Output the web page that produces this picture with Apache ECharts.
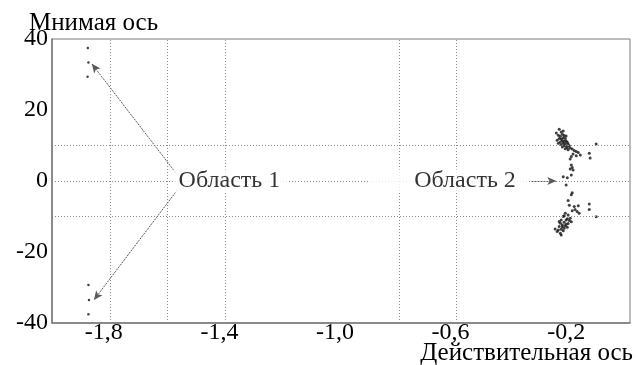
<!DOCTYPE html>
<html>
<head>
<meta charset="utf-8">
<script src="https://cdn.jsdelivr.net/npm/echarts@6/dist/echarts.min.js"></script>
<style>
  html, body { margin: 0; padding: 0; background: #fff; }
  #chart { width: 638px; height: 365px; }
</style>
</head>
<body>
<div id="chart"></div>
<script>
// Axis settings
const xRange = [-2, 0];
const yRange = [-40, 40];
const xTickLabels = [-1.8, -1.4, -1.0, -0.6, -0.2];
const yTickStep = 20;
const xGridLines = [-1.8, -1.6, -1.4, -0.8, -0.6];
const yGridLines = [10, 0, -10];

// Roots of region 1 (complex-conjugate pairs far on the left)
const region1Points = [
  [-1.876, 37.5], [-1.874, 33.4], [-1.877, 29.4],
  [-1.874, -29.3], [-1.872, -33.5], [-1.874, -37.5]
];

// Roots of region 2 (dense cluster close to the imaginary axis)
const region2Upper = [
  [-0.245, 14.6], [-0.255, 13.5], [-0.238, 13.8], [-0.234, 13.2], [-0.248, 12.9],
  [-0.241, 12.6], [-0.228, 12.8], [-0.231, 12.2], [-0.245, 12.0], [-0.238, 11.8],
  [-0.224, 12.0], [-0.234, 11.4], [-0.228, 11.2], [-0.241, 11.0], [-0.221, 11.3],
  [-0.231, 10.7], [-0.217, 10.9], [-0.224, 10.5], [-0.238, 10.3], [-0.214, 10.4],
  [-0.228, 10.0], [-0.221, 9.8], [-0.210, 9.9], [-0.234, 9.6], [-0.217, 9.4],
  [-0.224, 9.1], [-0.207, 9.3], [-0.214, 8.8], [-0.231, 14.1], [-0.252, 11.5],
  [-0.221, 12.7], [-0.248, 10.6],
  [-0.200, 9.0], [-0.193, 8.6], [-0.186, 8.3], [-0.179, 8.0], [-0.197, 7.6],
  [-0.172, 7.3], [-0.186, 7.1], [-0.203, 6.9], [-0.207, 6.2], [-0.141, 7.8],
  [-0.138, 6.5], [-0.117, 10.4], [-0.203, 4.5], [-0.200, 3.8], [-0.197, 3.1],
  [-0.207, 3.4], [-0.231, 1.2], [-0.217, 0.9], [-0.203, 1.7]
];
const region2Lower = [
  [-0.221, -1.1], [-0.200, -3.3], [-0.203, -3.9], [-0.214, -5.5], [-0.210, -6.8],
  [-0.193, -7.2], [-0.179, -7.0], [-0.183, -8.6], [-0.176, -9.1], [-0.141, -6.5],
  [-0.141, -8.0], [-0.117, -10.1], [-0.190, -8.0], [-0.200, -8.4],
  [-0.224, -9.1], [-0.214, -9.6], [-0.207, -10.5], [-0.231, -10.0], [-0.217, -10.6],
  [-0.238, -11.0], [-0.221, -11.0], [-0.203, -11.5], [-0.228, -11.6], [-0.241, -11.9],
  [-0.214, -12.0], [-0.234, -12.4], [-0.224, -12.6], [-0.245, -12.8], [-0.234, -12.9],
  [-0.228, -13.3], [-0.248, -13.8], [-0.259, -13.5], [-0.238, -13.6], [-0.241, -14.7],
  [-0.252, -14.2], [-0.231, -14.0], [-0.221, -12.2], [-0.210, -11.1], [-0.245, -11.4],
  [-0.217, -13.0], [-0.238, -15.2], [-0.228, -9.8]
];

// Callout arrows: [from, to]
const region1Arrows = [
  [[-1.566, 1.7], [-1.862, 33.0]],
  [[-1.566, -2.5], [-1.855, -33.5]]
];
const region2Arrow = [[-0.341, 0], [-0.255, 0]];

// Callout texts and their anchors
const calloutNames = ['Область 1', 'Область 2'];
const calloutAnchors = [[-1.381, 0], [-0.628, 0]];

const axisTitleY = 'Мнимая ось';
const axisTitleX = 'Действительная ось';

const FONT = 'Liberation Serif, Times New Roman, serif';
const textColor = '#000';
const frameColor = '#7a7a7a';
const gridColor = '#8a8a8a';

const chart = echarts.init(document.getElementById('chart'), null, { renderer: 'canvas' });

function fmtX(v) {
  const r = Math.round(v * 10) / 10;
  return xTickLabels.some(t => Math.abs(t - r) < 1e-6) ? r.toFixed(1).replace('.', ',') : '';
}

const gridLineData = xGridLines.map(x => ({ xAxis: x })).concat(yGridLines.map(y => ({ yAxis: y })));

const arrowData = region1Arrows.concat([region2Arrow]).map(seg => [
  { coord: seg[0] }, { coord: seg[1] }
]);

chart.setOption({
  animation: false,
  backgroundColor: '#fff',
  grid: {
    left: 52, right: 8, top: 39, bottom: 42,
    show: true, borderColor: frameColor, borderWidth: 1
  },
  xAxis: {
    type: 'value', min: xRange[0], max: xRange[1], interval: 0.2,
    axisLine: { show: true, onZero: false, lineStyle: { color: frameColor, width: 1.5 } },
    axisTick: { show: false },
    splitLine: { show: false },
    axisLabel: {
      formatter: fmtX, color: textColor, fontFamily: FONT, fontSize: 24,
      margin: -2, padding: [0, 12, 0, 0]
    }
  },
  yAxis: {
    type: 'value', min: yRange[0], max: yRange[1], interval: yTickStep,
    axisLine: { show: true, onZero: false, lineStyle: { color: frameColor, width: 1.5 } },
    axisTick: { show: false },
    splitLine: { show: false },
    axisLabel: { color: textColor, fontFamily: FONT, fontSize: 24, margin: 4 }
  },
  graphic: [
    { type: 'text', left: 29, top: 11, style: { text: axisTitleY, font: '25px ' + FONT, fill: textColor } },
    { type: 'text', right: 5, top: 341, style: { text: axisTitleX, font: '25px ' + FONT, fill: textColor } }
  ],
  series: [
    {
      name: 'grid', type: 'line', data: [], z: 1, silent: true,
      markLine: {
        silent: true, symbol: 'none', animation: false,
        label: { show: false },
        lineStyle: { color: gridColor, width: 1, type: [1, 2] },
        data: gridLineData
      }
    },
    {
      name: 'arrows', type: 'line', data: [], z: 2, silent: true,
      markLine: {
        silent: true, symbol: ['none', 'arrow'], symbolSize: [6, 9], animation: false,
        label: { show: false },
        lineStyle: { color: '#5a5a5a', width: 1, type: [2, 1] },
        data: arrowData
      }
    },
    {
      name: 'Область 1', type: 'scatter', z: 3, symbolSize: 2.5,
      itemStyle: { color: '#111' }, data: region1Points
    },
    {
      name: 'Область 2', type: 'scatter', z: 3, symbolSize: 3,
      itemStyle: { color: '#111' }, data: region2Upper.concat(region2Lower)
    },
    {
      name: 'callouts', type: 'scatter', z: 6, symbolSize: 0, silent: true,
      data: [
        {
          name: calloutNames[0], value: calloutAnchors[0],
          label: { padding: [0, 8, 0, 5] }
        },
        {
          name: calloutNames[1], value: calloutAnchors[1],
          label: { padding: [0, 12, 0, 45] }
        }
      ],
      label: {
        show: true, position: 'inside', formatter: '{b}',
        color: textColor, fontFamily: FONT, fontSize: 24,
        backgroundColor: '#fff', lineHeight: 23
      }
    }
  ]
});
</script>
</body>
</html>
